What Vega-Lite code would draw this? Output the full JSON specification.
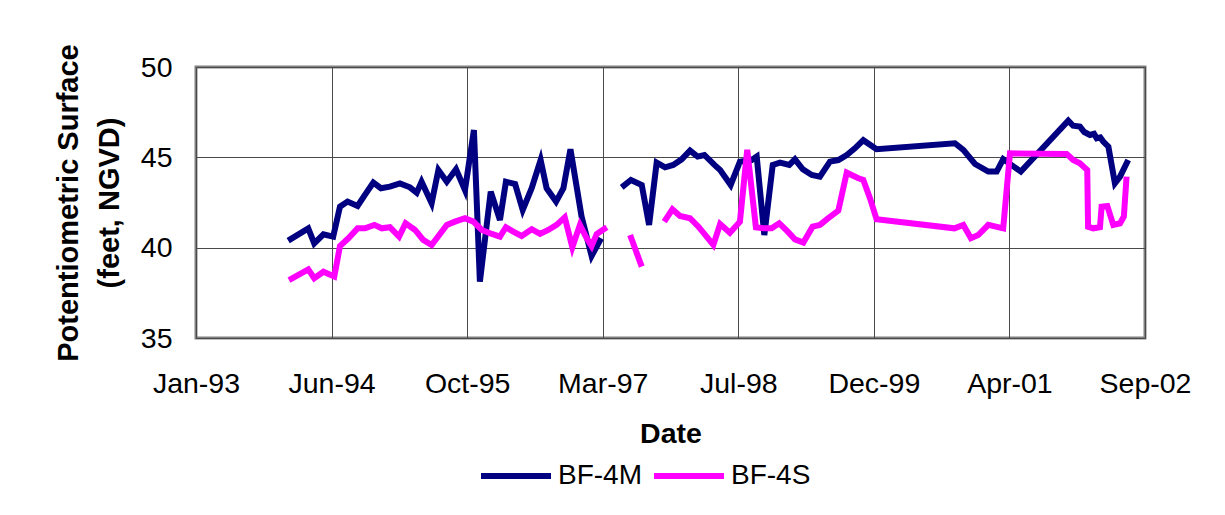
{
  "$schema": "https://vega.github.io/schema/vega-lite/v6.json",
  "width": 949,
  "height": 271,
  "autosize": {"type": "none"},
  "padding": {"left": 196, "top": 67, "right": 80, "bottom": 177},
  "background": "white",
  "config": {
    "font": "Liberation Sans",
    "view": {"stroke": "#808080", "strokeWidth": 3},
    "axis": {"domain": false, "ticks": false, "gridColor": "#4a4a4a", "gridWidth": 1, "gridOpacity": 1, "labelColor": "black", "titleColor": "black"}
  },
  "data": {"values": [
    {"d":"1994-01-06","v":40.39,"s":"BF-4M","g":1},
    {"d":"1994-03-21","v":41.07,"s":"BF-4M","g":1},
    {"d":"1994-04-12","v":40.24,"s":"BF-4M","g":1},
    {"d":"1994-05-16","v":40.74,"s":"BF-4M","g":1},
    {"d":"1994-06-21","v":40.61,"s":"BF-4M","g":1},
    {"d":"1994-07-16","v":42.27,"s":"BF-4M","g":1},
    {"d":"1994-08-13","v":42.55,"s":"BF-4M","g":1},
    {"d":"1994-09-19","v":42.31,"s":"BF-4M","g":1},
    {"d":"1994-10-16","v":42.92,"s":"BF-4M","g":1},
    {"d":"1994-11-16","v":43.60,"s":"BF-4M","g":1},
    {"d":"1994-12-14","v":43.29,"s":"BF-4M","g":1},
    {"d":"1995-01-16","v":43.38,"s":"BF-4M","g":1},
    {"d":"1995-02-22","v":43.56,"s":"BF-4M","g":1},
    {"d":"1995-03-31","v":43.34,"s":"BF-4M","g":1},
    {"d":"1995-04-25","v":43.04,"s":"BF-4M","g":1},
    {"d":"1995-05-13","v":43.65,"s":"BF-4M","g":1},
    {"d":"1995-06-19","v":42.46,"s":"BF-4M","g":1},
    {"d":"1995-07-14","v":44.30,"s":"BF-4M","g":1},
    {"d":"1995-08-14","v":43.65,"s":"BF-4M","g":1},
    {"d":"1995-09-17","v":44.34,"s":"BF-4M","g":1},
    {"d":"1995-10-20","v":43.19,"s":"BF-4M","g":1},
    {"d":"1995-11-22","v":46.51,"s":"BF-4M","g":1},
    {"d":"1995-12-14","v":38.12,"s":"BF-4M","g":1},
    {"d":"1996-01-23","v":43.10,"s":"BF-4M","g":1},
    {"d":"1996-02-26","v":41.53,"s":"BF-4M","g":1},
    {"d":"1996-03-19","v":43.65,"s":"BF-4M","g":1},
    {"d":"1996-04-22","v":43.52,"s":"BF-4M","g":1},
    {"d":"1996-05-20","v":42.09,"s":"BF-4M","g":1},
    {"d":"1996-06-22","v":43.29,"s":"BF-4M","g":1},
    {"d":"1996-07-25","v":44.85,"s":"BF-4M","g":1},
    {"d":"1996-08-16","v":43.29,"s":"BF-4M","g":1},
    {"d":"1996-09-20","v":42.55,"s":"BF-4M","g":1},
    {"d":"1996-10-17","v":43.29,"s":"BF-4M","g":1},
    {"d":"1996-11-12","v":45.45,"s":"BF-4M","g":1},
    {"d":"1996-12-23","v":41.72,"s":"BF-4M","g":1},
    {"d":"1997-01-29","v":39.54,"s":"BF-4M","g":1},
    {"d":"1997-03-05","v":40.52,"s":"BF-4M","g":1},
    {"d":"1997-05-20","v":43.34,"s":"BF-4M","g":2},
    {"d":"1997-06-23","v":43.75,"s":"BF-4M","g":2},
    {"d":"1997-08-02","v":43.47,"s":"BF-4M","g":2},
    {"d":"1997-08-29","v":41.26,"s":"BF-4M","g":2},
    {"d":"1997-09-26","v":44.71,"s":"BF-4M","g":2},
    {"d":"1997-10-27","v":44.45,"s":"BF-4M","g":2},
    {"d":"1997-11-26","v":44.58,"s":"BF-4M","g":2},
    {"d":"1997-12-27","v":44.89,"s":"BF-4M","g":2},
    {"d":"1998-01-27","v":45.37,"s":"BF-4M","g":2},
    {"d":"1998-02-24","v":45.04,"s":"BF-4M","g":2},
    {"d":"1998-03-21","v":45.13,"s":"BF-4M","g":2},
    {"d":"1998-04-27","v":44.58,"s":"BF-4M","g":2},
    {"d":"1998-05-18","v":44.30,"s":"BF-4M","g":2},
    {"d":"1998-06-26","v":43.47,"s":"BF-4M","g":2},
    {"d":"1998-07-30","v":44.76,"s":"BF-4M","g":2},
    {"d":"1998-09-11","v":44.85,"s":"BF-4M","g":2},
    {"d":"1998-09-30","v":45.04,"s":"BF-4M","g":2},
    {"d":"1998-10-28","v":40.70,"s":"BF-4M","g":2},
    {"d":"1998-11-28","v":44.58,"s":"BF-4M","g":2},
    {"d":"1998-12-25","v":44.71,"s":"BF-4M","g":2},
    {"d":"1999-01-28","v":44.58,"s":"BF-4M","g":2},
    {"d":"1999-02-18","v":44.89,"s":"BF-4M","g":2},
    {"d":"1999-03-19","v":44.34,"s":"BF-4M","g":2},
    {"d":"1999-04-21","v":44.02,"s":"BF-4M","g":2},
    {"d":"1999-05-21","v":43.93,"s":"BF-4M","g":2},
    {"d":"1999-06-27","v":44.76,"s":"BF-4M","g":2},
    {"d":"1999-07-28","v":44.85,"s":"BF-4M","g":2},
    {"d":"1999-08-28","v":45.13,"s":"BF-4M","g":2},
    {"d":"1999-09-27","v":45.50,"s":"BF-4M","g":2},
    {"d":"1999-10-28","v":45.95,"s":"BF-4M","g":2},
    {"d":"1999-12-16","v":45.45,"s":"BF-4M","g":2},
    {"d":"2000-09-30","v":45.78,"s":"BF-4M","g":2},
    {"d":"2000-10-31","v":45.41,"s":"BF-4M","g":2},
    {"d":"2000-12-13","v":44.63,"s":"BF-4M","g":2},
    {"d":"2001-01-31","v":44.21,"s":"BF-4M","g":2},
    {"d":"2001-03-03","v":44.21,"s":"BF-4M","g":2},
    {"d":"2001-03-27","v":44.90,"s":"BF-4M","g":2},
    {"d":"2001-05-31","v":44.21,"s":"BF-4M","g":2},
    {"d":"2001-11-22","v":47.03,"s":"BF-4M","g":2},
    {"d":"2001-12-10","v":46.75,"s":"BF-4M","g":2},
    {"d":"2002-01-04","v":46.70,"s":"BF-4M","g":2},
    {"d":"2002-01-20","v":46.40,"s":"BF-4M","g":2},
    {"d":"2002-02-10","v":46.24,"s":"BF-4M","g":2},
    {"d":"2002-02-25","v":46.30,"s":"BF-4M","g":2},
    {"d":"2002-03-07","v":46.05,"s":"BF-4M","g":2},
    {"d":"2002-03-20","v":46.10,"s":"BF-4M","g":2},
    {"d":"2002-03-31","v":45.87,"s":"BF-4M","g":2},
    {"d":"2002-04-19","v":45.59,"s":"BF-4M","g":2},
    {"d":"2002-05-13","v":43.56,"s":"BF-4M","g":2},
    {"d":"2002-06-01","v":43.93,"s":"BF-4M","g":2},
    {"d":"2002-07-01","v":44.85,"s":"BF-4M","g":2},
    {"d":"1994-01-09","v":38.21,"s":"BF-4S","g":1},
    {"d":"1994-03-21","v":38.80,"s":"BF-4S","g":1},
    {"d":"1994-04-12","v":38.31,"s":"BF-4S","g":1},
    {"d":"1994-05-16","v":38.67,"s":"BF-4S","g":1},
    {"d":"1994-06-25","v":38.40,"s":"BF-4S","g":1},
    {"d":"1994-07-16","v":40.09,"s":"BF-4S","g":1},
    {"d":"1994-08-16","v":40.52,"s":"BF-4S","g":1},
    {"d":"1994-09-19","v":41.07,"s":"BF-4S","g":1},
    {"d":"1994-10-16","v":41.07,"s":"BF-4S","g":1},
    {"d":"1994-11-20","v":41.26,"s":"BF-4S","g":1},
    {"d":"1994-12-17","v":41.07,"s":"BF-4S","g":1},
    {"d":"1995-01-16","v":41.13,"s":"BF-4S","g":1},
    {"d":"1995-02-19","v":40.61,"s":"BF-4S","g":1},
    {"d":"1995-03-15","v":41.35,"s":"BF-4S","g":1},
    {"d":"1995-04-19","v":40.98,"s":"BF-4S","g":1},
    {"d":"1995-05-19","v":40.43,"s":"BF-4S","g":1},
    {"d":"1995-06-19","v":40.15,"s":"BF-4S","g":1},
    {"d":"1995-08-14","v":41.26,"s":"BF-4S","g":1},
    {"d":"1995-09-13","v":41.44,"s":"BF-4S","g":1},
    {"d":"1995-10-20","v":41.63,"s":"BF-4S","g":1},
    {"d":"1995-11-20","v":41.44,"s":"BF-4S","g":1},
    {"d":"1995-12-21","v":40.98,"s":"BF-4S","g":1},
    {"d":"1996-01-27","v":40.76,"s":"BF-4S","g":1},
    {"d":"1996-02-26","v":40.61,"s":"BF-4S","g":1},
    {"d":"1996-03-19","v":41.13,"s":"BF-4S","g":1},
    {"d":"1996-04-15","v":40.89,"s":"BF-4S","g":1},
    {"d":"1996-05-16","v":40.65,"s":"BF-4S","g":1},
    {"d":"1996-06-22","v":41.02,"s":"BF-4S","g":1},
    {"d":"1996-07-23","v":40.76,"s":"BF-4S","g":1},
    {"d":"1996-08-22","v":40.98,"s":"BF-4S","g":1},
    {"d":"1996-09-22","v":41.26,"s":"BF-4S","g":1},
    {"d":"1996-10-22","v":41.68,"s":"BF-4S","g":1},
    {"d":"1996-11-19","v":40.02,"s":"BF-4S","g":1},
    {"d":"1996-12-17","v":41.26,"s":"BF-4S","g":1},
    {"d":"1997-01-11","v":40.52,"s":"BF-4S","g":1},
    {"d":"1997-01-29","v":40.09,"s":"BF-4S","g":1},
    {"d":"1997-02-17","v":40.76,"s":"BF-4S","g":1},
    {"d":"1997-03-26","v":41.13,"s":"BF-4S","g":1},
    {"d":"1997-06-20","v":40.70,"s":"BF-4S","g":2},
    {"d":"1997-08-02","v":38.95,"s":"BF-4S","g":2},
    {"d":"1997-10-24","v":41.44,"s":"BF-4S","g":3},
    {"d":"1997-11-23","v":42.12,"s":"BF-4S","g":3},
    {"d":"1997-12-21","v":41.75,"s":"BF-4S","g":3},
    {"d":"1998-01-27","v":41.63,"s":"BF-4S","g":3},
    {"d":"1998-02-27","v":41.16,"s":"BF-4S","g":3},
    {"d":"1998-04-23","v":40.15,"s":"BF-4S","g":3},
    {"d":"1998-05-18","v":41.31,"s":"BF-4S","g":3},
    {"d":"1998-06-23","v":40.83,"s":"BF-4S","g":3},
    {"d":"1998-07-30","v":41.44,"s":"BF-4S","g":3},
    {"d":"1998-08-26","v":45.41,"s":"BF-4S","g":3},
    {"d":"1998-09-27","v":41.13,"s":"BF-4S","g":3},
    {"d":"1998-10-24","v":41.07,"s":"BF-4S","g":3},
    {"d":"1998-11-24","v":41.07,"s":"BF-4S","g":3},
    {"d":"1998-12-22","v":41.35,"s":"BF-4S","g":3},
    {"d":"1999-01-19","v":40.94,"s":"BF-4S","g":3},
    {"d":"1999-02-18","v":40.46,"s":"BF-4S","g":3},
    {"d":"1999-03-21","v":40.28,"s":"BF-4S","g":3},
    {"d":"1999-04-24","v":41.16,"s":"BF-4S","g":3},
    {"d":"1999-05-21","v":41.26,"s":"BF-4S","g":3},
    {"d":"1999-06-21","v":41.63,"s":"BF-4S","g":3},
    {"d":"1999-07-28","v":42.05,"s":"BF-4S","g":3},
    {"d":"1999-08-28","v":44.15,"s":"BF-4S","g":3},
    {"d":"1999-10-10","v":43.84,"s":"BF-4S","g":3},
    {"d":"1999-10-28","v":43.75,"s":"BF-4S","g":3},
    {"d":"1999-11-22","v":42.73,"s":"BF-4S","g":3},
    {"d":"1999-12-16","v":41.57,"s":"BF-4S","g":3},
    {"d":"2000-09-28","v":41.07,"s":"BF-4S","g":3},
    {"d":"2000-10-31","v":41.26,"s":"BF-4S","g":3},
    {"d":"2000-11-28","v":40.52,"s":"BF-4S","g":3},
    {"d":"2000-12-25","v":40.70,"s":"BF-4S","g":3},
    {"d":"2001-01-31","v":41.26,"s":"BF-4S","g":3},
    {"d":"2001-03-27","v":41.07,"s":"BF-4S","g":3},
    {"d":"2001-04-21","v":45.22,"s":"BF-4S","g":3},
    {"d":"2001-11-16","v":45.19,"s":"BF-4S","g":3},
    {"d":"2001-12-10","v":44.85,"s":"BF-4S","g":3},
    {"d":"2002-01-04","v":44.67,"s":"BF-4S","g":3},
    {"d":"2002-01-31","v":44.30,"s":"BF-4S","g":3},
    {"d":"2002-02-03","v":41.16,"s":"BF-4S","g":3},
    {"d":"2002-02-22","v":41.07,"s":"BF-4S","g":3},
    {"d":"2002-03-19","v":41.13,"s":"BF-4S","g":3},
    {"d":"2002-03-25","v":42.27,"s":"BF-4S","g":3},
    {"d":"2002-04-15","v":42.31,"s":"BF-4S","g":3},
    {"d":"2002-05-07","v":41.26,"s":"BF-4S","g":3},
    {"d":"2002-06-01","v":41.35,"s":"BF-4S","g":3},
    {"d":"2002-06-15","v":41.72,"s":"BF-4S","g":3},
    {"d":"2002-06-25","v":43.93,"s":"BF-4S","g":3}
  ]},
  "mark": {"type": "line", "strokeWidth": 6, "clip": true},
  "encoding": {
    "x": {
      "field": "d", "type": "temporal",
      "scale": {"type": "utc", "domain": [{"year": 1993, "month": 1, "date": 31, "utc": true}, {"year": 2002, "month": 9, "date": 1, "utc": true}]},
      "axis": {
        "values": [
          {"year": 1993, "month": 1, "date": 31, "utc": true},
          {"year": 1994, "month": 6, "date": 15, "utc": true},
          {"year": 1995, "month": 10, "date": 28, "utc": true},
          {"year": 1997, "month": 3, "date": 11, "utc": true},
          {"year": 1998, "month": 7, "date": 24, "utc": true},
          {"year": 1999, "month": 12, "date": 6, "utc": true},
          {"year": 2001, "month": 4, "date": 19, "utc": true},
          {"year": 2002, "month": 9, "date": 1, "utc": true}
        ],
        "format": "%b-%y",
        "labelFontSize": 28.5, "labelPadding": 31, "labelOverlap": false, "labelBound": false, "labelFlush": false,
        "title": "Date", "titleFontSize": 28.5, "titleFontWeight": "bold", "titlePadding": 22
      }
    },
    "y": {
      "field": "v", "type": "quantitative",
      "scale": {"domain": [35, 50], "nice": false, "zero": false},
      "axis": {
        "values": [35, 40, 45, 50],
        "labelFontSize": 28.5, "labelPadding": 24,
        "title": ["Potentiometric Surface", "(feet, NGVD)"],
        "titleFontSize": 29, "titleFontWeight": "bold", "titleLineHeight": 41, "titlePadding": 16
      }
    },
    "color": {
      "field": "s", "type": "nominal",
      "scale": {"domain": ["BF-4M", "BF-4S"], "range": ["#000080", "#FF00FF"]},
      "legend": {
        "title": null, "orient": "none", "direction": "horizontal",
        "legendX": 282, "legendY": 371,
        "symbolType": "stroke", "symbolSize": 4900, "symbolStrokeWidth": 6,
        "labelFontSize": 28, "labelOffset": 4, "columnPadding": 0, "labelColor": "black"
      }
    },
    "detail": {"field": "g", "type": "nominal"}
  }
}
